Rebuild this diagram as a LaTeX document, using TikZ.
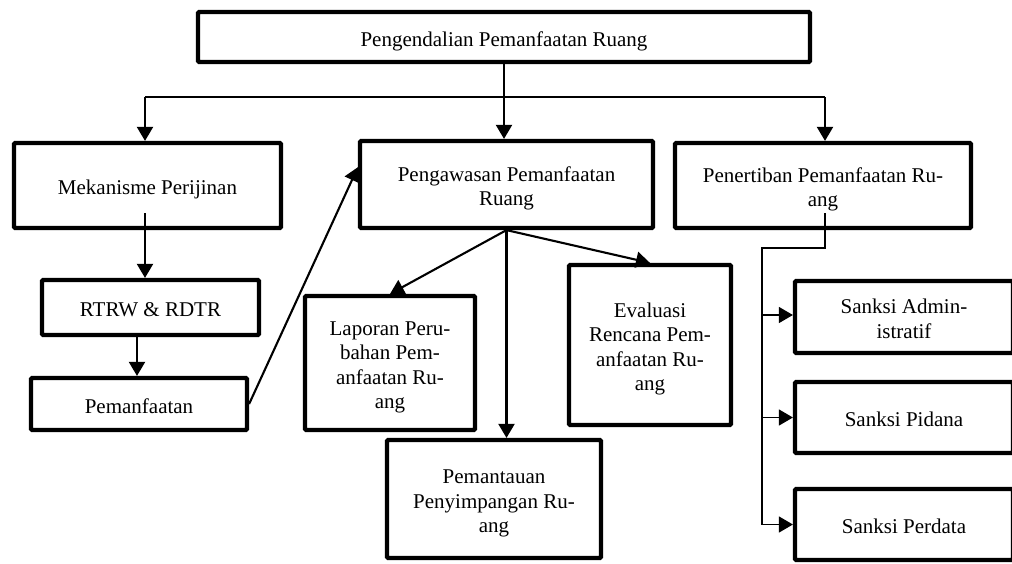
\documentclass[tikz,border=0pt]{standalone}
\usepackage{fontspec}
\setmainfont{Liberation Serif}
\usetikzlibrary{arrows.meta,calc}
\newcommand{\bt}[1]{\begin{tabular}{@{}c@{}}\rule{0pt}{25.35pt}#1\rule[-5pt]{0pt}{5pt}\end{tabular}}
\tikzset{
  box/.style={draw=black, line width=4.2pt, inner sep=2pt,
    font=\fontsize{21}{24.5}\selectfont, rounded corners=1pt},
  arr/.style={line width=2.1pt, -{Triangle[length=14pt,width=16pt]}},
  arrthin/.style={line width=1.2pt, -{Triangle[length=14pt,width=16pt]}},
  link/.style={line width=1.6pt},
  linkthin/.style={line width=1.2pt}
}
\begin{document}
\begin{tikzpicture}[x=1pt,y=-1pt]
\useasboundingbox (0,0) rectangle (1012,563);
\clip (0,0) rectangle (1012,563);
\fill[white] (0,0) rectangle (1012,563);

\node[box, minimum width=612pt, minimum height=50pt] (top) at (504,37) {\bt{Pengendalian Pemanfaatan Ruang}};
\node[box, minimum width=267pt, minimum height=85pt] (mek) at (147.5,185.5) {\bt{Mekanisme Perijinan}};
\node[box, minimum width=293pt, minimum height=87pt] (peng) at (506.5,184.5) {\bt{Pengawasan Pemanfaatan\\Ruang}};
\node[box, minimum width=296pt, minimum height=85pt] (pen) at (823,185.5) {\bt{Penertiban Pemanfaatan Ru-\\ang}};
\node[box, minimum width=217pt, minimum height=55pt] (rtrw) at (150.5,307.5) {\bt{RTRW \& RDTR}};
\node[box, minimum width=216pt, minimum height=52pt] (pmf) at (139,404) {\bt{Pemanfaatan}};
\node[box, minimum width=170pt, minimum height=134pt] (lap) at (390,363) {\bt{Laporan Peru-\\bahan Pem-\\anfaatan Ru-\\ang}};
\node[box, minimum width=214pt, minimum height=118pt] (pem) at (494,499) {\bt{Pemantauan\\Penyimpangan Ru-\\ang}};
\node[box, minimum width=162pt, minimum height=160pt] (eva) at (650,345) {\bt{Evaluasi\\Rencana Pem-\\anfaatan Ru-\\ang}};
\node[box, minimum width=218pt, minimum height=72pt] (s1) at (904,317) {\bt{Sanksi Admin-\\istratif}};
\node[box, minimum width=218pt, minimum height=71pt] (s2) at (904,417.5) {\bt{Sanksi Pidana}};
\node[box, minimum width=218pt, minimum height=71pt] (s3) at (904,524.5) {\bt{Sanksi Perdata}};

% top to pengawasan
\draw[arr] (top.south) -- (top.south |- peng.north);
% branch line
\coordinate (hl) at (145,97);
\coordinate (hr) at (825,97);
\draw[link] (hl) -- (hr);
\draw[arr] (hl) -- (hl |- mek.north);
\draw[arr] (hr) -- (hr |- pen.north);

% left chain
\coordinate (m1) at (145,213);
\draw[arr] (m1) -- (m1 |- rtrw.north);
\coordinate (r1) at (137,337);
\draw[arr] (r1) -- (r1 |- pmf.north);
\draw[arr] (pmf.east) -- ($(peng.north west)!0.31!(peng.south west)$);

% pengawasan children
\draw[arr] (peng.south) -- (lap.north);
\draw[arr] (peng.south) -- (peng.south |- pem.north);
\draw[arr] (peng.south) -- (eva.north);

% penertiban children
\coordinate (p1) at (825,213);
\coordinate (p2) at (762,248);
\draw[linkthin] (p1) |- (p2) -- (p2 |- s3.west);
\draw[arrthin] ($(p2 |- s1.west)+(0,-2)$) -- ($(s1.west)+(0,-2)$);
\draw[arrthin] (p2 |- s2.west) -- (s2.west);
\draw[arrthin] (p2 |- s3.west) -- (s3.west);
\end{tikzpicture}
\end{document}
